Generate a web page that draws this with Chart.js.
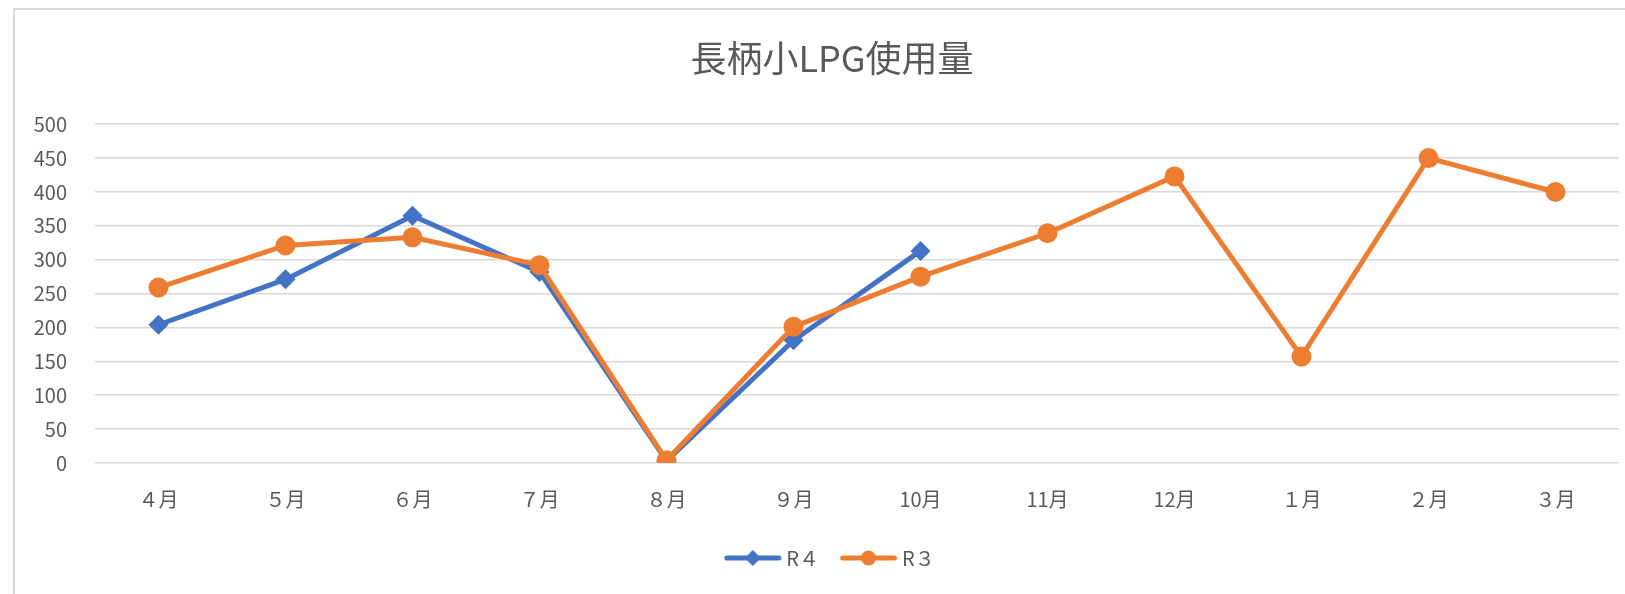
<!DOCTYPE html>
<html>
<head>
<meta charset="utf-8">
<script src="https://cdn.jsdelivr.net/npm/chart.js@4/dist/chart.umd.min.js"></script>
<style>
  html, body { margin: 0; padding: 0; background: #ffffff; overflow: hidden; width: 1625px; height: 594px; }
  #frame { position: absolute; left: 13px; top: 8px; width: 1700px; height: 700px; border-left: 2px solid #d9d9d9; border-top: 2px solid #d9d9d9; }
  #c { position: absolute; left: 15px; top: 10px; }
</style>
</head>
<body>
<div id="frame"></div>
<canvas id="c" width="1634" height="600"></canvas>
<script>
const chartTitle = '長柄小LPG使用量';
const categories = ['４月', '５月', '６月', '７月', '８月', '９月', '10月', '11月', '12月', '１月', '２月', '３月'];
const seriesNames = ['R４', 'R３'];
const r4Values = [204, 271, 365, 282, 3, 181, 313, null, null, null, null, null];
const r3Values = [259, 321, 333, 292, 4, 201, 275, 339, 423, 157, 450, 400];
const yTickMin = 0;
const yTickMax = 500;
const yTickStep = 50;

const BLUE = '#4472C4';
const ORANGE = '#ED7D31';
const TEXT = '#595959';
const FONT = '"Noto Sans CJK JP", "Noto Sans", sans-serif';

function legendIcon(color, shape) {
  const cv = document.createElement('canvas');
  cv.width = 58; cv.height = 20;
  const g = cv.getContext('2d');
  g.strokeStyle = color; g.lineWidth = 5; g.lineCap = 'round';
  g.beginPath(); g.moveTo(3, 10); g.lineTo(55, 10); g.stroke();
  g.fillStyle = color;
  g.beginPath();
  if (shape === 'diamond') {
    g.moveTo(29, 2); g.lineTo(37, 10); g.lineTo(29, 18); g.lineTo(21, 10); g.closePath();
  } else {
    g.arc(29, 10, 7.5, 0, Math.PI * 2);
  }
  g.fill();
  return cv;
}
const iconR4 = legendIcon(BLUE, 'diamond');
const iconR3 = legendIcon(ORANGE, 'circle');

new Chart(document.getElementById('c'), {
  type: 'line',
  data: {
    labels: categories,
    datasets: [
      {
        label: seriesNames[0], data: r4Values, order: 1,
        borderColor: BLUE, backgroundColor: BLUE, borderWidth: 5,
        pointStyle: 'rectRot', pointRadius: 10, pointHoverRadius: 10,
        pointBorderWidth: 0, tension: 0, spanGaps: false
      },
      {
        label: seriesNames[1], data: r3Values, order: 0,
        borderColor: ORANGE, backgroundColor: ORANGE, borderWidth: 5,
        pointStyle: 'circle', pointRadius: 10, pointHoverRadius: 10,
        pointBorderWidth: 0, tension: 0
      }
    ]
  },
  options: {
    responsive: false,
    animation: false,
    events: [],
    layout: { padding: { left: 0, right: 0, top: 0, bottom: 32 } },
    plugins: {
      title: {
        display: true, text: chartTitle, color: TEXT,
        font: { family: FONT, size: 36, weight: 'normal', lineHeight: 1.2 },
        padding: { top: 27, bottom: 44 }
      },
      legend: {
        display: true, position: 'bottom',
        labels: {
          font: { family: FONT, size: 20, lineHeight: 1.2 },
          color: TEXT,
          usePointStyle: true,
          pointStyleWidth: 47,
          padding: 26,
          sort: (a, b) => a.datasetIndex - b.datasetIndex,
          generateLabels: (chart) => chart.data.datasets.map((ds, i) => ({
            text: ds.label,
            fillStyle: ds.borderColor,
            strokeStyle: ds.borderColor,
            lineWidth: 0,
            pointStyle: i === 0 ? iconR4 : iconR3,
            fontColor: TEXT,
            hidden: false,
            datasetIndex: i
          }))
        }
      },
      tooltip: { enabled: false }
    },
    scales: {
      x: {
        offset: true,
        grid: { display: false, drawTicks: false },
        border: { display: false },
        ticks: { color: TEXT, font: { family: FONT, size: 20, lineHeight: 1.2 }, padding: 24, maxRotation: 0, autoSkip: false },
        afterFit: (s) => { s.height = 59; }
      },
      y: {
        min: yTickMin, max: yTickMax,
        grid: { color: '#d9d9d9', lineWidth: 1.5, drawTicks: false },
        border: { display: false },
        ticks: { stepSize: yTickStep, color: TEXT, font: { family: FONT, size: 20, lineHeight: 1.2 }, padding: 28 },
        afterFit: (s) => { s.width = 80; }
      },
      yRightGap: {
        type: 'linear', position: 'right', display: true,
        grid: { display: false, drawTicks: false },
        border: { display: false },
        ticks: { display: false },
        afterFit: (s) => { s.width = 30; }
      }
    }
  }
});
</script>
</body>
</html>
